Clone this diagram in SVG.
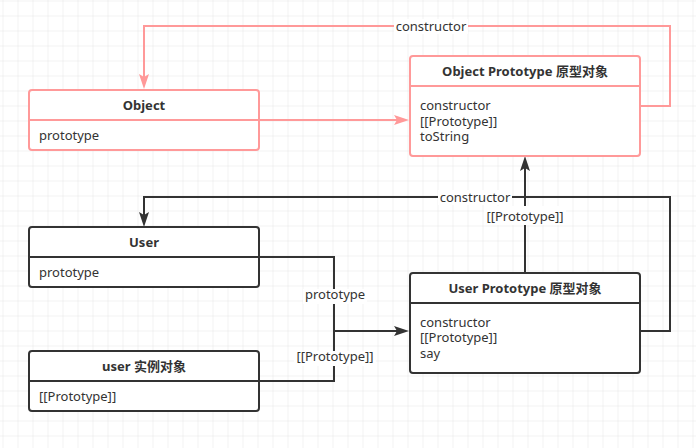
<svg xmlns="http://www.w3.org/2000/svg" width="696" height="448" viewBox="0 0 696 448">
<style>
text{font-family:"Noto Sans","Noto Sans CJK SC",sans-serif;font-size:13px;fill:#333}
.t{font-weight:bold;text-anchor:middle}
.c{text-anchor:middle}
.box{fill:#fff;stroke-width:2}
.red{stroke:#ff9999}
.dark{stroke:#333}
.ln{fill:none;stroke-width:2}
.bg{fill:#fff}
</style>
<defs>
<pattern id="grid" x="2.5" y="0.5" width="15" height="15" patternUnits="userSpaceOnUse">
<path d="M0,0 H15 M0,0 V15" fill="none" stroke="#e6e6e6" stroke-width="1"/>
</pattern>
<marker id="ar" viewBox="0 0 15 10" refX="12" refY="5" markerWidth="15" markerHeight="10" markerUnits="userSpaceOnUse" orient="auto">
<path d="M0,0 L15,5 L0,10 L3,5 Z" fill="#ff9999"/>
</marker>
<marker id="ad" viewBox="0 0 15 10" refX="12" refY="5" markerWidth="15" markerHeight="10" markerUnits="userSpaceOnUse" orient="auto">
<path d="M0,0 L15,5 L0,10 L3,5 Z" fill="#333"/>
</marker>
</defs>
<rect x="0" y="0" width="696" height="448" fill="#fff"/>
<rect x="0" y="0" width="696" height="448" fill="url(#grid)"/>
<g id="connectors">
<path class="ln red" d="M640,106 H670 V26 H144 V86" marker-end="url(#ar)"/>
<path class="ln red" d="M259,120 H406" marker-end="url(#ar)"/>
<path class="ln dark" d="M525,273 V159" marker-end="url(#ad)"/>
<path class="ln dark" d="M640,331 H670 V197 H144 V224" marker-end="url(#ad)"/>
<path class="ln dark" d="M259,257 H334 V331 H406" marker-end="url(#ad)"/>
<path class="ln dark" d="M259,381 H334 V331"/>
<rect class="bg" x="394" y="19" width="74" height="15"/>
<text class="c" x="431" y="31">constructor</text>
<rect class="bg" x="438" y="190" width="74" height="15"/>
<text class="c" x="475" y="202">constructor</text>
<rect class="bg" x="484" y="206" width="82" height="19"/>
<text class="c" x="525" y="221">[[Prototype]]</text>
<rect class="bg" x="303" y="289" width="64" height="15"/>
<text class="c" x="335" y="298.5">prototype</text>
<rect class="bg" x="294" y="351" width="82" height="15"/>
<text class="c" x="335" y="361">[[Prototype]]</text>
</g>
<g id="object">
<rect class="box red" x="29" y="90" width="230" height="60" rx="3"/>
<path class="ln red" d="M29,120 H259"/>
<text class="t" x="144" y="109.5">Object</text>
<text x="39" y="140">prototype</text>
</g>
<g id="object-prototype">
<rect class="box red" x="410" y="56" width="230" height="100" rx="3"/>
<path class="ln red" d="M410,86 H640"/>
<text class="t" x="525" y="76">Object Prototype 原型对象</text>
<text x="420" y="109.5">constructor<tspan x="420" y="125.5">[[Prototype]]</tspan><tspan x="420" y="141">toString</tspan></text>
</g>
<g id="user">
<rect class="box dark" x="29" y="227" width="230" height="60" rx="3"/>
<path class="ln dark" d="M29,257 H259"/>
<text class="t" x="144" y="246.5">User</text>
<text x="39" y="277">prototype</text>
</g>
<g id="user-instance">
<rect class="box dark" x="29" y="351" width="230" height="60" rx="3"/>
<path class="ln dark" d="M29,381 H259"/>
<text class="t" x="144" y="371">user 实例对象</text>
<text x="39" y="401">[[Prototype]]</text>
</g>
<g id="user-prototype">
<rect class="box dark" x="410" y="273" width="230" height="100" rx="3"/>
<path class="ln dark" d="M410,303 H640"/>
<text class="t" x="525" y="292.5">User Prototype 原型对象</text>
<text x="420" y="326.5">constructor<tspan x="420" y="342">[[Prototype]]</tspan><tspan x="420" y="357.5">say</tspan></text>
</g>
</svg>
